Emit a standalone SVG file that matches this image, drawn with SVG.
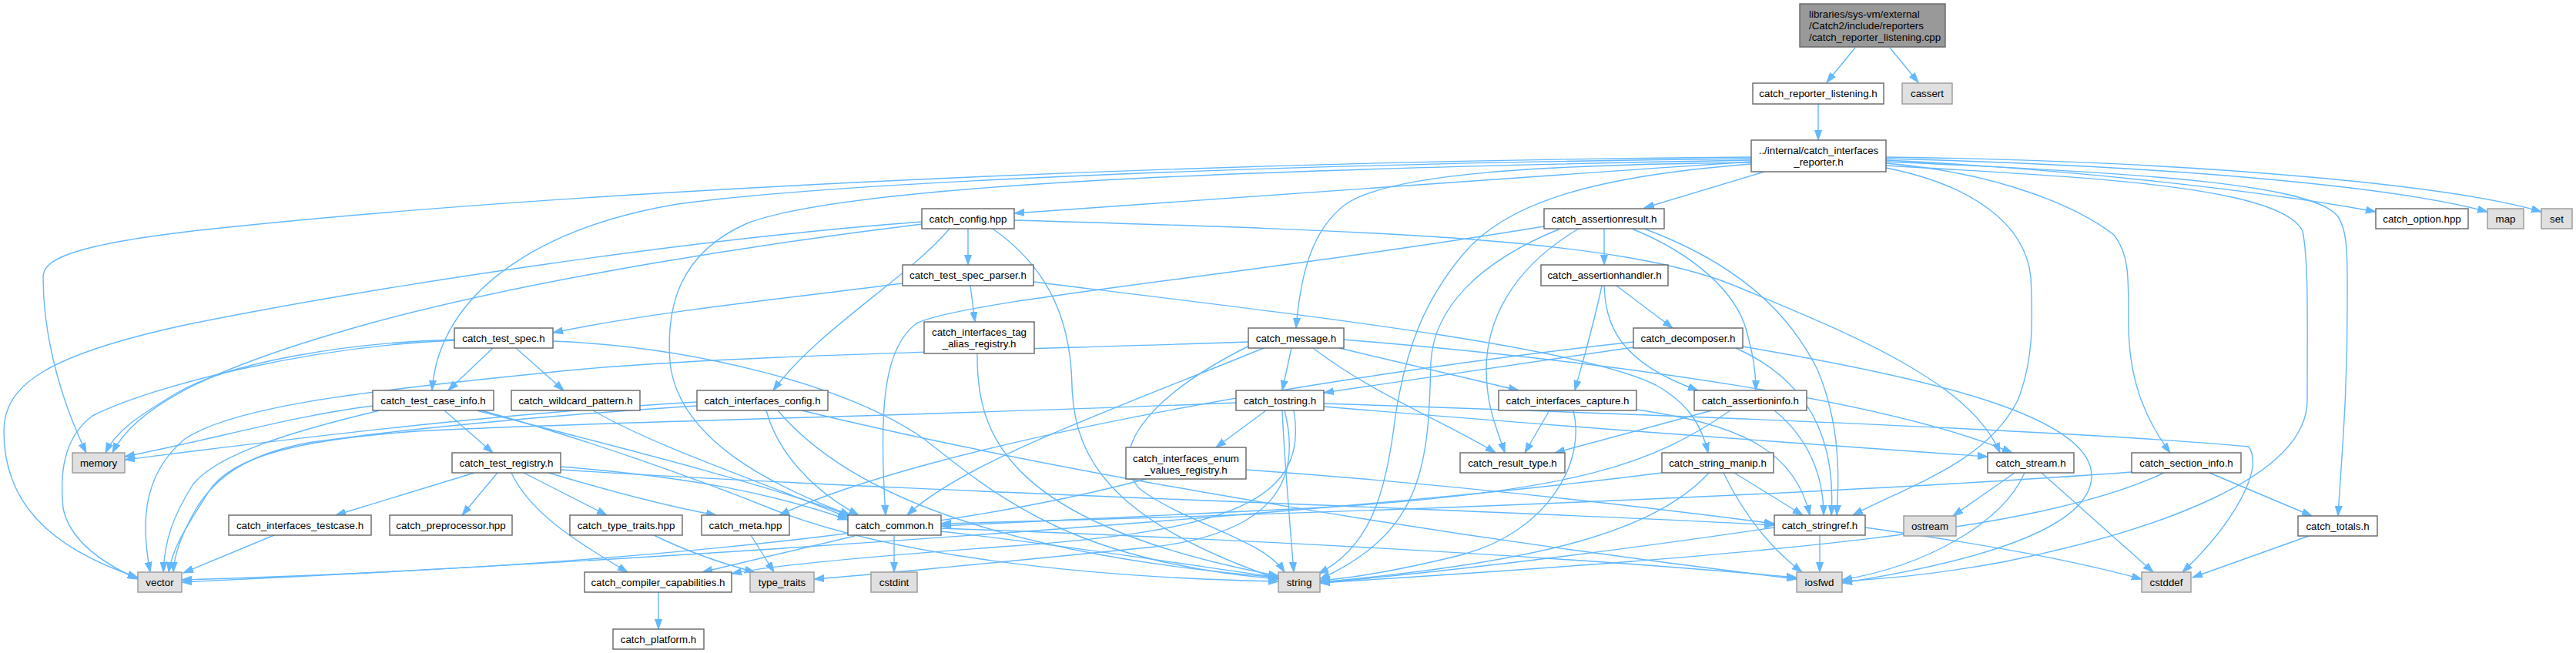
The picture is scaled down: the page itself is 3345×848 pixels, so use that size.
<svg xmlns="http://www.w3.org/2000/svg" width="3345" height="848" viewBox="0 0 3345 848">
<defs>
<style>
text{font-family:'Liberation Sans',Arial,Helvetica,sans-serif;font-size:13.33px;fill:#000;text-anchor:middle}
.n rect{fill:#fff;stroke:#666;stroke-width:1.4}
.g rect{fill:#e0e0e0;stroke:#999;stroke-width:1.4}
.r rect{fill:#999;stroke:#666;stroke-width:1.4}
.r text{text-anchor:start}
#edges path{fill:none;stroke:#63b8ff;stroke-width:1.4;marker-end:url(#a)}
</style>
<marker id="a" markerWidth="14" markerHeight="10" refX="13" refY="5" orient="auto" markerUnits="userSpaceOnUse"><path d="M0,0.5 L13,5 L0,9.5 z" fill="#63b8ff" stroke="#63b8ff" stroke-width="1"/></marker>
</defs>
<rect width="3345" height="848" fill="#fff"/>
<g id="edges">
<path d="M2409,62 L2372,107"/>
<path d="M2454,62 L2491,107"/>
<path d="M2361,135 L2361,182"/>
<path d="M2274,210 C1900,235 1500,262 1317,277"/>
<path d="M2291,223 L2135,270"/>
<path d="M2274,211 C2000,214 1800,225 1745,267 C1710,295 1690,340 1683,426"/>
<path d="M2274,213 C2050,230 1950,270 1900,330 C1850,390 1826,450 1812,540 C1800,640 1780,710 1712,745"/>
<path d="M2026,297 C1920,340 1862,400 1858,470 C1855,600 1850,690 1714,752"/>
<path d="M2274,206 C1700,212 1100,235 880,265 C700,295 570,380 561,507"/>
<path d="M2274,204 C1500,210 700,250 250,300 C80,320 56,340 56,360 C56,420 70,500 112,588"/>
<path d="M2274,208 C1600,220 1100,240 970,290 C880,330 865,400 870,470 C880,570 1000,630 1104,669"/>
<path d="M2449,212 C2600,225 2700,270 2745,305 C2765,330 2764,360 2764,420 C2764,500 2790,550 2818,588"/>
<path d="M2449,218 C2560,240 2630,290 2637,360 C2640,420 2640,470 2620,520 C2580,600 2480,630 2406,669"/>
<path d="M2449,215 C2700,230 2960,240 2990,300 C2998,340 2996,420 2996,520 C2996,620 2800,690 2600,730 C2500,748 2440,752 2392,755"/>
<path d="M2449,210 C2800,225 3000,240 3035,280 C3050,300 3048,340 3048,400 C3048,520 3040,600 3036,670"/>
<path d="M2449,208 C2700,220 2950,250 3085,275"/>
<path d="M2449,206 C2800,215 3100,240 3230,275"/>
<path d="M2449,204 C2900,210 3200,245 3300,275"/>
<path d="M1257,297 L1257,344"/>
<path d="M1233,297 C1180,360 1060,430 1004,507"/>
<path d="M1289,297 C1350,340 1390,400 1392,500 C1394,600 1450,680 1660,752"/>
<path d="M1197,291 C1000,315 700,360 480,420 C300,470 180,520 146,588"/>
<path d="M1197,288 C900,310 500,370 250,420 C60,460 5,500 5,560 C5,650 60,710 179,750"/>
<path d="M1317,286 C1800,300 2100,310 2250,370 C2420,440 2560,500 2597,588"/>
<path d="M1745,441 C2100,470 2450,520 2613,588"/>
<path d="M1172,368 C1000,390 850,405 718,432"/>
<path d="M1260,371 L1266,418"/>
<path d="M1342,366 C1700,410 2050,450 2150,500 C2195,525 2210,555 2218,588"/>
<path d="M640,452 L582,507"/>
<path d="M670,452 L732,507"/>
<path d="M590,441 C450,445 300,470 230,510 C180,540 150,560 137,588"/>
<path d="M590,442 C400,450 200,500 120,540 C80,570 78,620 82,660 C90,700 130,730 179,752"/>
<path d="M718,443 C900,450 1100,500 1200,570 C1300,650 1400,730 1660,752"/>
<path d="M770,533 C850,580 1000,630 1101,672"/>
<path d="M577,533 L640,588"/>
<path d="M484,527 C380,540 280,570 162,593"/>
<path d="M493,533 C380,560 280,590 250,630 C225,670 214,700 212,743"/>
<path d="M619,533 C800,580 1000,630 1104,670"/>
<path d="M625,533 C760,570 900,620 1000,660 C1150,720 1400,750 1660,755"/>
<path d="M905,522 C600,540 300,580 162,597"/>
<path d="M905,527 C700,540 500,560 400,575 C320,590 280,620 255,660 C235,695 226,720 225,743"/>
<path d="M995,533 C1010,590 1060,640 1115,669"/>
<path d="M1010,533 C1100,640 1300,720 1660,750"/>
<path d="M1041,533 C1400,620 1900,700 2333,752"/>
<path d="M1269,459 C1268,560 1300,680 1660,748"/>
<path d="M1739,452 L1972,507"/>
<path d="M1705,452 C1780,510 1880,550 1942,588"/>
<path d="M1677,452 L1665,507"/>
<path d="M1624,448 C1480,520 1440,590 1480,635 C1540,680 1640,700 1668,743"/>
<path d="M1641,452 C1450,530 1250,600 1178,669"/>
<path d="M1621,444 C1300,455 900,462 700,485 C450,510 300,530 240,570 C180,620 185,690 195,743"/>
<path d="M1644,533 L1579,581"/>
<path d="M1605,523 C1200,540 700,550 541,560 C400,570 300,590 270,640 C245,680 224,710 219,743"/>
<path d="M1665,533 C1668,600 1675,680 1680,743"/>
<path d="M1668,533 C1690,620 1660,690 1500,710 C1300,730 1150,745 1057,752"/>
<path d="M1680,533 C1700,650 1600,690 1300,710 C1100,725 1000,735 950,745"/>
<path d="M1719,524 C2200,540 2700,560 2920,580 C2940,610 2900,680 2834,743"/>
<path d="M1719,528 C2100,560 2400,580 2581,593"/>
<path d="M1618,610 C1900,630 2150,660 2304,680"/>
<path d="M1488,622 C1200,700 700,740 236,753"/>
<path d="M2012,533 L1980,588"/>
<path d="M2043,533 C2060,600 2010,690 1900,720 C1820,740 1760,750 1714,754"/>
<path d="M2125,532 C2250,550 2330,580 2350,669"/>
<path d="M2223,533 L2019,588"/>
<path d="M2247,533 C2150,600 2050,640 1700,660 C1450,672 1300,680 1222,683"/>
<path d="M2304,533 C2350,570 2368,620 2368,669"/>
<path d="M2099,371 L2172,426"/>
<path d="M2080,371 C2070,420 2055,470 2045,507"/>
<path d="M2083,371 C2085,420 2100,470 2205,507"/>
<path d="M2083,297 L2083,344"/>
<path d="M2005,294 C1600,360 1250,390 1190,420 C1150,450 1140,520 1150,669"/>
<path d="M2050,297 C1960,350 1930,420 1930,480 C1930,530 1945,560 1954,588"/>
<path d="M2119,297 C2200,330 2255,380 2268,430 C2276,460 2280,480 2280,507"/>
<path d="M2135,297 C2250,340 2320,400 2360,480 C2385,540 2390,600 2385,669"/>
<path d="M2121,451 L1719,510"/>
<path d="M2121,444 C1700,490 1200,580 1012,669"/>
<path d="M2254,452 C2340,490 2385,560 2378,669"/>
<path d="M2263,450 C2500,490 2720,540 2716,620 C2712,700 2500,740 2392,757"/>
<path d="M2158,614 C1800,660 1000,720 236,756"/>
<path d="M2219,614 C2150,690 2000,730 1714,756"/>
<path d="M2238,614 C2270,680 2310,720 2340,743"/>
<path d="M2252,614 L2341,669"/>
<path d="M2616,614 L2536,670"/>
<path d="M2629,614 C2600,680 2500,735 2392,753"/>
<path d="M2651,614 L2796,743"/>
<path d="M2768,613 C2400,640 1800,665 1222,680"/>
<path d="M2810,614 C2650,690 2300,720 1714,757"/>
<path d="M2869,614 L3002,670"/>
<path d="M2998,696 L2847,750"/>
<path d="M2304,685 C2100,715 1900,740 1714,757"/>
<path d="M2363,695 L2363,743"/>
<path d="M2422,685 C2600,710 2700,730 2781,752"/>
<path d="M616,614 L436,669"/>
<path d="M646,614 L600,669"/>
<path d="M680,614 L788,669"/>
<path d="M664,614 C690,670 760,710 815,743"/>
<path d="M728,606 C900,620 1000,640 1101,675"/>
<path d="M728,610 C1200,640 1900,660 2304,682"/>
<path d="M712,614 C800,640 880,660 930,669"/>
<path d="M356,695 L238,744"/>
<path d="M975,695 L1005,743"/>
<path d="M849,695 C900,720 950,735 980,743"/>
<path d="M1161,696 L1161,743"/>
<path d="M1110,696 L912,743"/>
<path d="M1222,690 C1400,710 1550,735 1660,750"/>
<path d="M1222,686 C1600,700 2000,720 2333,750"/>
<path d="M855,769 L855,817"/>
</g>
<g id="root" class="r"><rect x="2337" y="5" width="189" height="56"/><text x="2349" y="23">libraries/sys-vm/external</text><text x="2349" y="38">/Catch2/include/reporters</text><text x="2349" y="53">/catch_reporter_listening.cpp</text></g>
<g id="n_listening" class="n"><rect x="2276" y="108" width="170" height="27"/><text x="2361" y="126">catch_reporter_listening.h</text></g>
<g id="n_cassert" class="g"><rect x="2470" y="108" width="65" height="27"/><text x="2502.5" y="126">cassert</text></g>
<g id="n_ireporter" class="n"><rect x="2274" y="182" width="175" height="41"/><text x="2361.5" y="200">../internal/catch_interfaces</text><text x="2361.5" y="215">_reporter.h</text></g>
<g id="n_config" class="n"><rect x="1197" y="271" width="120" height="26"/><text x="1257" y="288.5">catch_config.hpp</text></g>
<g id="n_aresult" class="n"><rect x="2005" y="271" width="156" height="26"/><text x="2083" y="288.5">catch_assertionresult.h</text></g>
<g id="n_option" class="n"><rect x="3085" y="271" width="120" height="26"/><text x="3145" y="288.5">catch_option.hpp</text></g>
<g id="n_map" class="g"><rect x="3230" y="271" width="47" height="26"/><text x="3253.5" y="288.5">map</text></g>
<g id="n_set" class="g"><rect x="3300" y="271" width="40" height="26"/><text x="3320" y="288.5">set</text></g>
<g id="n_parser" class="n"><rect x="1172" y="344" width="170" height="27"/><text x="1257" y="362">catch_test_spec_parser.h</text></g>
<g id="n_ahandler" class="n"><rect x="2001" y="344" width="165" height="27"/><text x="2083.5" y="362">catch_assertionhandler.h</text></g>
<g id="n_testspec" class="n"><rect x="590" y="426" width="128" height="26"/><text x="654" y="443.5">catch_test_spec.h</text></g>
<g id="n_tagalias" class="n"><rect x="1200" y="418" width="143" height="41"/><text x="1271.5" y="436">catch_interfaces_tag</text><text x="1271.5" y="451">_alias_registry.h</text></g>
<g id="n_message" class="n"><rect x="1621" y="426" width="124" height="26"/><text x="1683" y="443.5">catch_message.h</text></g>
<g id="n_decomposer" class="n"><rect x="2121" y="426" width="142" height="26"/><text x="2192" y="443.5">catch_decomposer.h</text></g>
<g id="n_tci" class="n"><rect x="484" y="507" width="157" height="26"/><text x="562.5" y="524.5">catch_test_case_info.h</text></g>
<g id="n_wildcard" class="n"><rect x="664" y="507" width="167" height="26"/><text x="747.5" y="524.5">catch_wildcard_pattern.h</text></g>
<g id="n_iconfig" class="n"><rect x="905" y="507" width="170" height="26"/><text x="990" y="524.5">catch_interfaces_config.h</text></g>
<g id="n_tostring" class="n"><rect x="1605" y="507" width="114" height="26"/><text x="1662" y="524.5">catch_tostring.h</text></g>
<g id="n_capture" class="n"><rect x="1946" y="507" width="179" height="26"/><text x="2035.5" y="524.5">catch_interfaces_capture.h</text></g>
<g id="n_ainfo" class="n"><rect x="2200" y="507" width="146" height="26"/><text x="2273" y="524.5">catch_assertioninfo.h</text></g>
<g id="n_memory" class="g"><rect x="94" y="588" width="68" height="26"/><text x="128" y="605.5">memory</text></g>
<g id="n_registry" class="n"><rect x="587" y="588" width="141" height="26"/><text x="657.5" y="605.5">catch_test_registry.h</text></g>
<g id="n_enum" class="n"><rect x="1462" y="581" width="156" height="41"/><text x="1540" y="599.5">catch_interfaces_enum</text><text x="1540" y="614.5">_values_registry.h</text></g>
<g id="n_resulttype" class="n"><rect x="1896" y="588" width="136" height="26"/><text x="1964" y="605.5">catch_result_type.h</text></g>
<g id="n_strmanip" class="n"><rect x="2158" y="588" width="145" height="26"/><text x="2230.5" y="605.5">catch_string_manip.h</text></g>
<g id="n_stream" class="n"><rect x="2581" y="588" width="112" height="26"/><text x="2637" y="605.5">catch_stream.h</text></g>
<g id="n_section" class="n"><rect x="2768" y="588" width="142" height="26"/><text x="2839" y="605.5">catch_section_info.h</text></g>
<g id="n_itestcase" class="n"><rect x="297" y="669" width="185" height="26"/><text x="389.5" y="686.5">catch_interfaces_testcase.h</text></g>
<g id="n_preproc" class="n"><rect x="506" y="669" width="159" height="26"/><text x="585.5" y="686.5">catch_preprocessor.hpp</text></g>
<g id="n_typetraitshpp" class="n"><rect x="740" y="669" width="146" height="26"/><text x="813" y="686.5">catch_type_traits.hpp</text></g>
<g id="n_meta" class="n"><rect x="911" y="669" width="114" height="26"/><text x="968" y="686.5">catch_meta.hpp</text></g>
<g id="n_common" class="n"><rect x="1101" y="669" width="121" height="26"/><text x="1161.5" y="686.5">catch_common.h</text></g>
<g id="n_stringref" class="n"><rect x="2304" y="669" width="118" height="26"/><text x="2363" y="686.5">catch_stringref.h</text></g>
<g id="n_ostream" class="g"><rect x="2472" y="670" width="68" height="26"/><text x="2506" y="687.5">ostream</text></g>
<g id="n_totals" class="n"><rect x="2984" y="670" width="103" height="26"/><text x="3035.5" y="687.5">catch_totals.h</text></g>
<g id="n_vector" class="g"><rect x="179" y="743" width="57" height="26"/><text x="207.5" y="760.5">vector</text></g>
<g id="n_compcap" class="n"><rect x="759" y="743" width="191" height="26"/><text x="854.5" y="760.5">catch_compiler_capabilities.h</text></g>
<g id="n_typetraits" class="g"><rect x="974" y="743" width="83" height="26"/><text x="1015.5" y="760.5">type_traits</text></g>
<g id="n_cstdint" class="g"><rect x="1131" y="743" width="60" height="26"/><text x="1161" y="760.5">cstdint</text></g>
<g id="n_string" class="g"><rect x="1660" y="743" width="54" height="26"/><text x="1687" y="760.5">string</text></g>
<g id="n_iosfwd" class="g"><rect x="2333" y="743" width="59" height="26"/><text x="2362.5" y="760.5">iosfwd</text></g>
<g id="n_cstddef" class="g"><rect x="2781" y="743" width="64" height="26"/><text x="2813" y="760.5">cstddef</text></g>
<g id="n_platform" class="n"><rect x="796" y="817" width="118" height="26"/><text x="855" y="834.5">catch_platform.h</text></g>
</svg>
